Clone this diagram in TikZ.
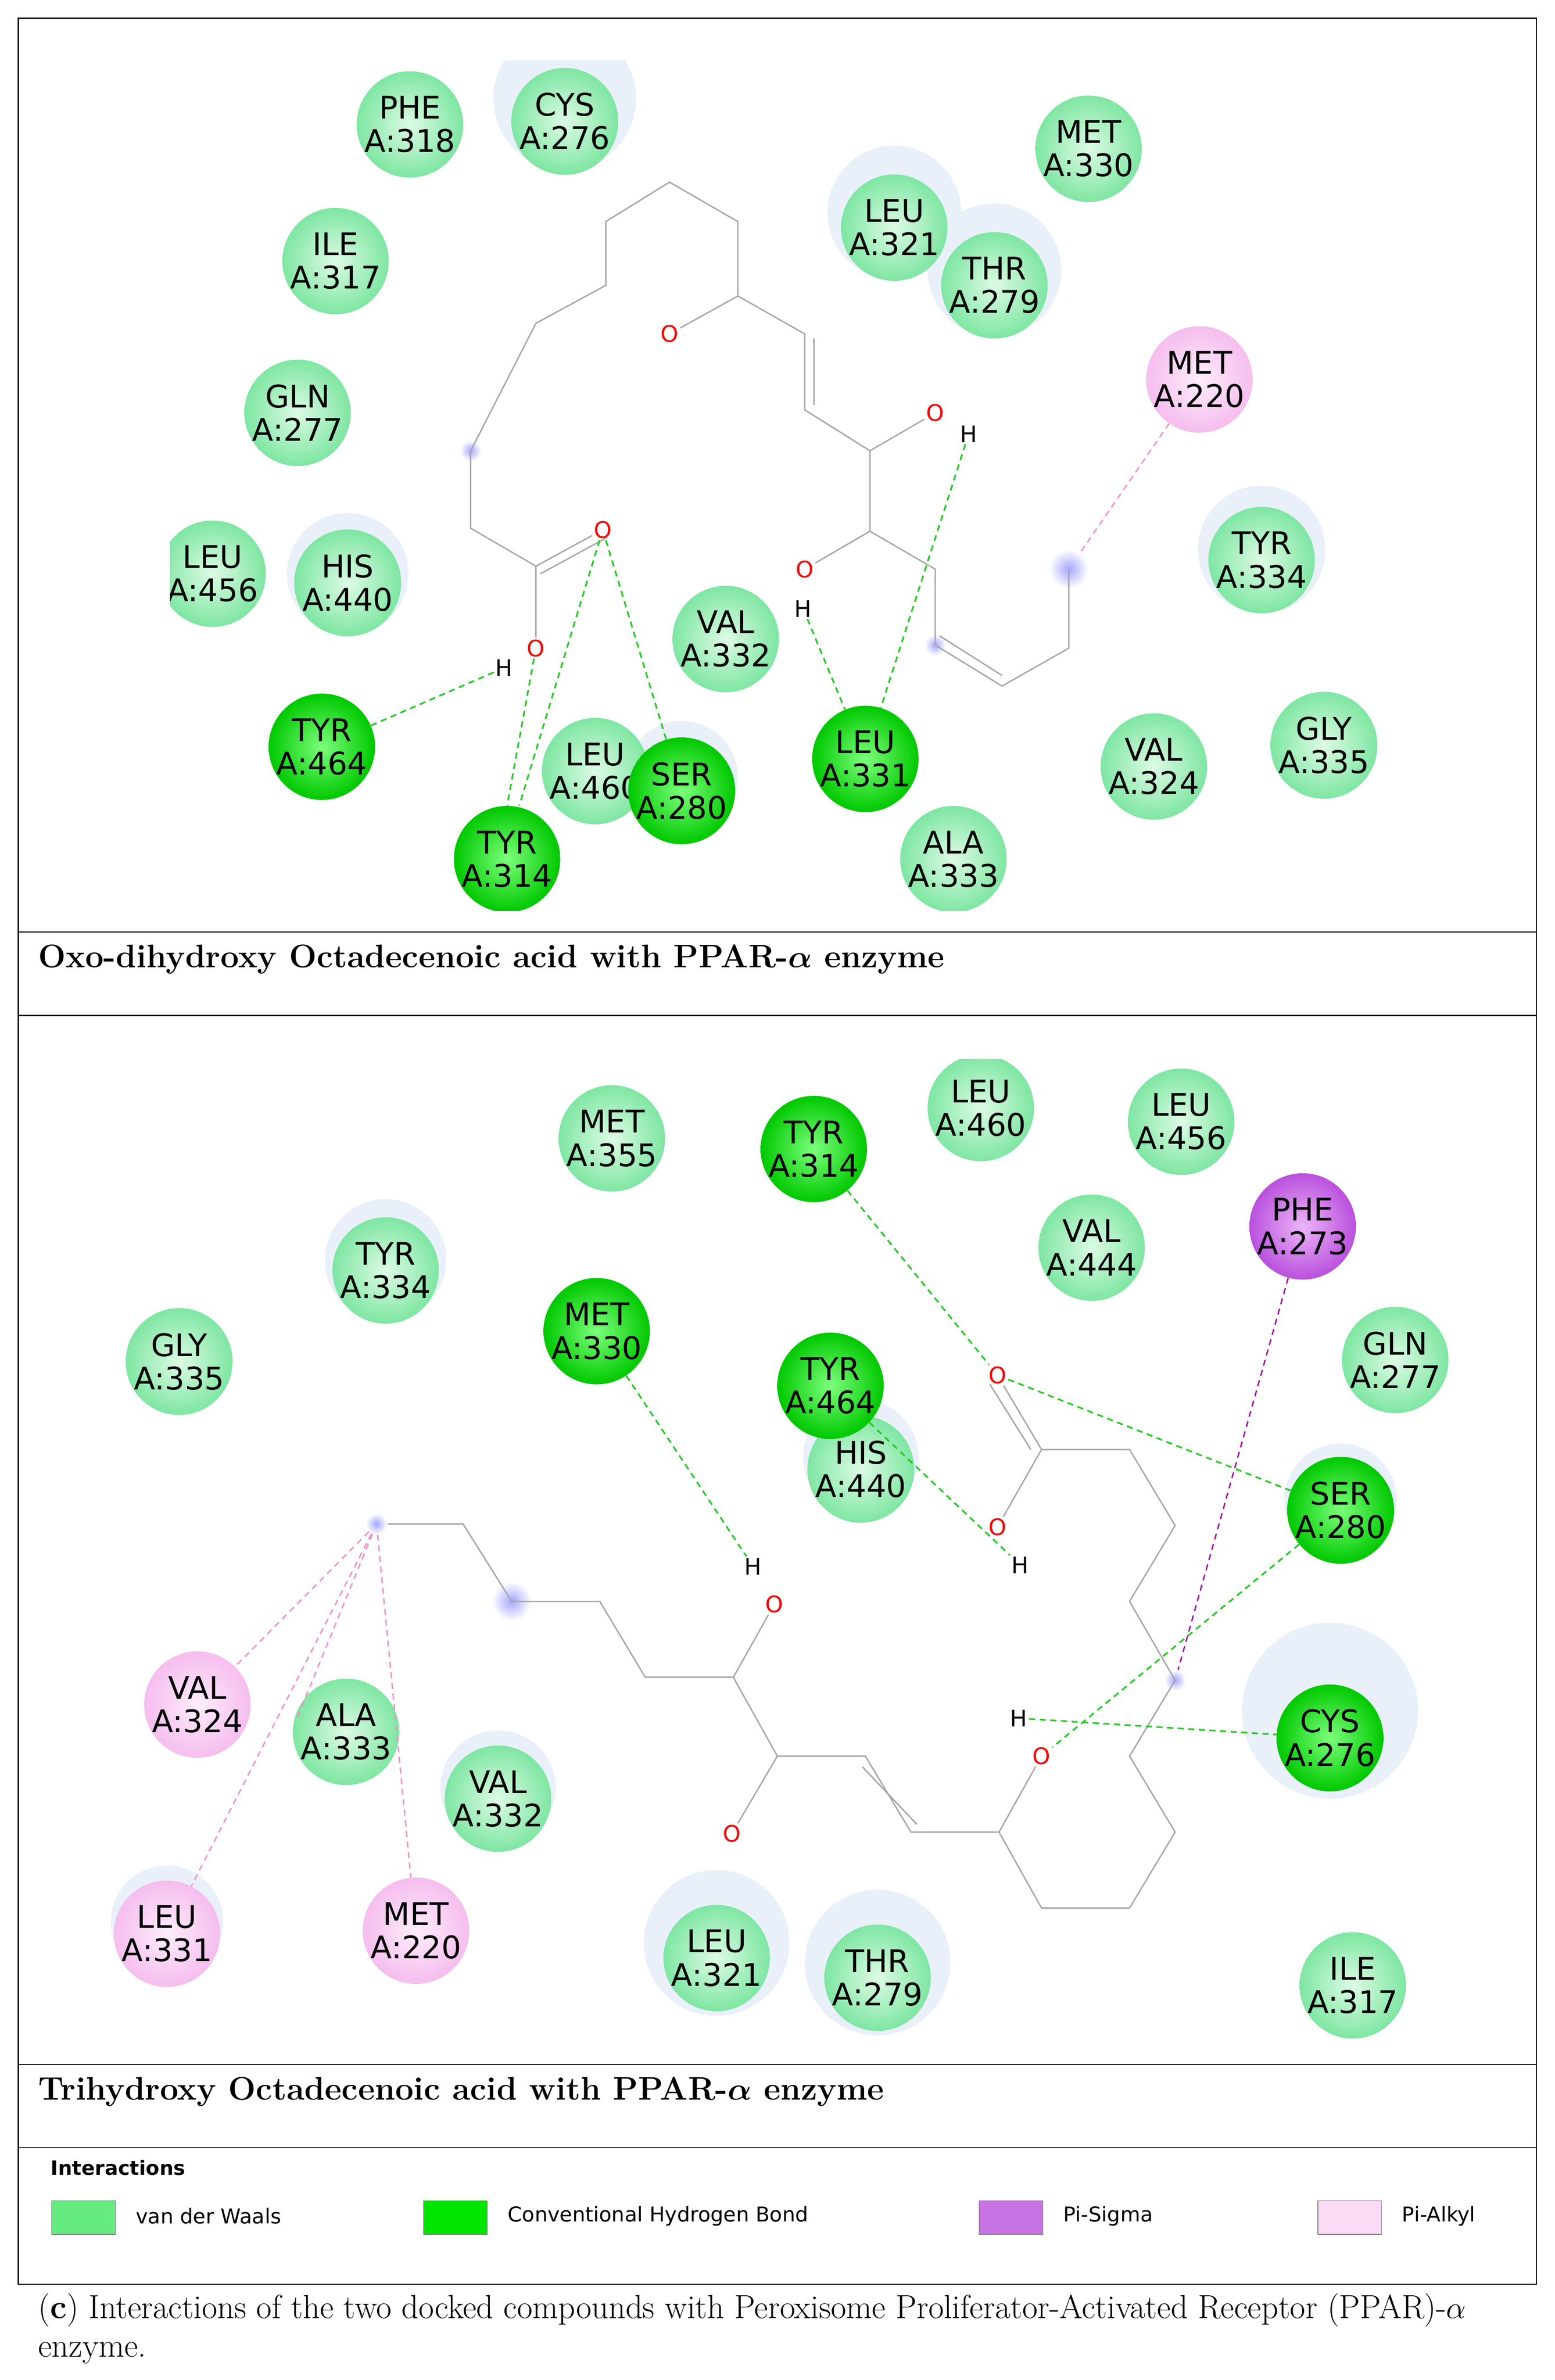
\documentclass[tikz,border=0pt]{standalone}
\usepackage{amsmath,amssymb}
\usepackage{bm}
\usepackage{fontspec}
\newfontfamily\dv{DejaVu Sans}
\usetikzlibrary{calc}
\definecolor{vdwA}{HTML}{DDFBE4}\definecolor{vdwB}{HTML}{7EE6A2}
\definecolor{hbA}{HTML}{7CFF7C}\definecolor{hbB}{HTML}{00C800}
\definecolor{paA}{HTML}{FFEDFB}\definecolor{paB}{HTML}{F5BDEE}
\definecolor{psA}{HTML}{EDB5F8}\definecolor{psB}{HTML}{B950DD}
\definecolor{halo}{HTML}{E9F0FA}\definecolor{hg}{HTML}{22CC22}
\tikzset{
 resbase/.style={circle,minimum size=66pt,inner sep=0pt,align=center,font=\dv\fontsize{20.5}{22}\selectfont,text=black},
 vdw/.style={resbase,inner color=vdwA,outer color=vdwB},
 hb/.style={resbase,inner color=hbA,outer color=hbB},
 pa/.style={resbase,inner color=paA,outer color=paB},
 ps/.style={resbase,inner color=psA,outer color=psB},
 bond/.style={draw=black!35,line width=0.9pt},
 atomO/.style={text=red,font=\dv\fontsize{15}{15}\selectfont,inner sep=1pt,fill=white},
 atomH/.style={text=black,font=\dv\fontsize{15}{15}\selectfont,inner sep=1pt,fill=white},
 hbl/.style={draw=hg,dash pattern=on 4pt off 3pt,line width=1.1pt},
 pal/.style={draw=magenta!45,dash pattern=on 4pt off 3pt,line width=0.9pt},
 psl/.style={draw=violet!70!magenta,dash pattern=on 4pt off 3pt,line width=0.9pt},
 blob/.style={circle,minimum size=26pt,inner sep=0pt,inner color=blue!35,outer color=white},
 haloc/.style={circle,fill=halo,inner sep=0pt},
 frame/.style={draw=black,line width=0.8pt},
 leg/.style={anchor=west,font=\dv\fontsize{13.5}{15}\selectfont}
}
\newcommand\rr[5]{\node[#5] (#1) at (#2) {#3\\#4};}
\begin{document}
\begin{tikzpicture}[x=1pt,y=-1pt]
\useasboundingbox (0,0) rectangle (1024,1568);
\fill[white] (0,0) rectangle (1024,1568);
% ================= top panel
\begin{scope}
\clip (112,40) rectangle (1000,600);
\node[haloc,minimum size=94pt] (h1) at (372,65) {};
\node[haloc,minimum size=88pt] (h2) at (589,140) {};
\node[haloc,minimum size=88pt] (h3) at (655,178) {};
\node[haloc,minimum size=80pt] (h4) at (229,378) {};
\node[haloc,minimum size=84pt] (h5) at (831,362) {};
\node[haloc,minimum size=74pt] (h6) at (449,512) {};
\node[blob] (b1) at (704,375) {};
\node[blob,minimum size=14pt] (b2) at (310,297) {};
\node[blob,minimum size=14pt] (b3) at (616,425) {};
% molecule
\coordinate (m1) at (310,297);
\node[atomO] (o1) at (397,349) {O};
\node[atomO] (o2) at (353,427) {O};
\node[atomH] (h1a) at (332,440) {H};
\node[atomO] (o3) at (441,220) {O};
\node[atomO] (o4) at (616,272) {O};
\node[atomH] (h4a) at (638,286) {H};
\node[atomO] (o5) at (530,375) {O};
\node[atomH] (h5a) at (529,401) {H};
\draw[bond] (m1)--(353,213)--(399,188)--(399,146)--(441,120)--(486,146)--(486,195);
\draw[bond] (m1)--(310,348)--(353,373)--(o2);
\draw[bond] (353,373)--(o1); \draw[bond] ($(353,373)+(3,5)$)--($(o1)+(3,5)$);
\draw[bond] (486,195)--(o3);
\draw[bond] (486,195)--(530,220)--(530,270)--(573,297)--(o4);
\draw[bond] ($(530,220)+(6,3)$)--($(530,270)+(6,-3)$);
\draw[bond] (573,297)--(573,350)--(o5);
\draw[bond] (573,350)--(616,375)--(616,425)--(660,452)--(704,427)--(704,375);
\draw[bond] ($(616,425)+(3,-6)$)--($(660,452)+(0,-7)$);
\rr{t1}{270,82}{PHE}{A:318}{vdw}
\rr{t2}{372,80}{CYS}{A:276}{vdw}
\rr{t3}{717,98}{MET}{A:330}{vdw}
\rr{t4}{589,150}{LEU}{A:321}{vdw}
\rr{t5}{655,188}{THR}{A:279}{vdw}
\rr{t6}{221,172}{ILE}{A:317}{vdw}
\rr{t7}{196,272}{GLN}{A:277}{vdw}
\rr{t8}{790,250}{MET}{A:220}{pa}
\rr{t9}{140,378}{LEU}{A:456}{vdw}
\rr{t10}{229,384}{HIS}{A:440}{vdw}
\rr{t11}{831,369}{TYR}{A:334}{vdw}
\rr{t12}{478,421}{VAL}{A:332}{vdw}
\rr{t13}{212,492}{TYR}{A:464}{hb}
\rr{t14}{392,508}{LEU}{A:460}{vdw}
\rr{t15}{449,521}{SER}{A:280}{hb}
\rr{t16}{334,566}{TYR}{A:314}{hb}
\rr{t17}{570,500}{LEU}{A:331}{hb}
\rr{t18}{760,505}{VAL}{A:324}{vdw}
\rr{t19}{872,491}{GLY}{A:335}{vdw}
\rr{t20}{628,566}{ALA}{A:333}{vdw}
\draw[hbl] (h1a)--(t13);
\draw[hbl] (o2)--(t16.north);
\draw[hbl] (o1)--($(t16.north)+(8,0)$);
\draw[hbl] (o1)--(t15);
\draw[hbl] (h5a)--(t17);
\draw[hbl] (h4a)--($(t17.north)+(10,2)$);
\draw[pal] (t8)--(b1);
\end{scope}
% ================= bottom panel
\begin{scope}
\clip (20,698) rectangle (1000,1345);
\node[haloc,minimum size=80pt] (g1) at (254,830) {};
\node[haloc,minimum size=76pt] (g2) at (567,960) {};
\node[haloc,minimum size=76pt] (g3) at (328,1178) {};
\node[haloc,minimum size=116pt] (g4) at (876,1127) {};
\node[haloc,minimum size=96pt] (g5) at (472,1280) {};
\node[haloc,minimum size=96pt] (g6) at (578,1293) {};
\node[haloc,minimum size=74pt] (g7) at (883,988) {};
\node[haloc,minimum size=74pt] (g8) at (110,1266) {};
\node[blob,minimum size=14pt] (c1) at (248,1004) {};
\node[blob] (c2) at (337,1055) {};
\node[blob,minimum size=14pt] (c3) at (774,1107) {};
\node[atomO] (p1) at (510,1057) {O};
\node[atomH] (q1) at (496,1032) {H};
\node[atomO] (p2) at (482,1208) {O};
\node[atomO] (p3) at (686,1157) {O};
\node[atomH] (q3) at (671,1132) {H};
\node[atomO] (p4) at (657,906) {O};
\node[atomO] (p5) at (657,1006) {O};
\node[atomH] (q5) at (672,1031) {H};
\draw[bond] (c1)--(305,1004)--(337,1055)--(395,1055)--(425,1105)--(483,1105)--(p1);
\draw[bond] (483,1105)--(512,1157)--(p2);
\draw[bond] (512,1157)--(570,1157)--(600,1207)--(658,1207)--(p3);
\draw[bond] ($(570,1157)+(-2,7)$)--($(600,1207)+(4,-5)$);
\draw[bond] (658,1207)--(686,1257)--(744,1257)--(774,1207)--(744,1157)--(774,1107)--(744,1055)--(774,1005)--(744,955)--(686,955)--(p4);
\draw[bond] (686,955)--(p5);
\draw[bond] ($(686,955)+(-7,0)$)--($(p4)+(-5,6)$);
\rr{s1}{403,750}{MET}{A:355}{vdw}
\rr{s3}{646,730}{LEU}{A:460}{vdw}
\rr{s4}{778,739}{LEU}{A:456}{vdw}
\rr{s5}{254,837}{TYR}{A:334}{vdw}
\rr{s6}{719,822}{VAL}{A:444}{vdw}
\rr{s7}{858,808}{PHE}{A:273}{ps}
\rr{s8}{393,877}{MET}{A:330}{hb}
\rr{s9}{118,897}{GLY}{A:335}{vdw}
\rr{s11}{567,968}{HIS}{A:440}{vdw}
\rr{s10}{547,913}{TYR}{A:464}{hb}
\rr{s2}{536,757}{TYR}{A:314}{hb}
\rr{s12}{919,896}{GLN}{A:277}{vdw}
\rr{s13}{883,995}{SER}{A:280}{hb}
\rr{s14}{130,1123}{VAL}{A:324}{pa}
\rr{s15}{228,1141}{ALA}{A:333}{vdw}
\rr{s16}{328,1185}{VAL}{A:332}{vdw}
\rr{s17}{876,1145}{CYS}{A:276}{hb}
\rr{s18}{110,1274}{LEU}{A:331}{pa}
\rr{s19}{274,1272}{MET}{A:220}{pa}
\rr{s20}{472,1290}{LEU}{A:321}{vdw}
\rr{s21}{578,1303}{THR}{A:279}{vdw}
\rr{s22}{891,1308}{ILE}{A:317}{vdw}
\draw[hbl] (s8)--(q1);
\draw[hbl] (s2)--(p4);
\draw[hbl] (p4)--(s13);
\draw[hbl] (s10)--(q5);
\draw[hbl] (s13)--(p3);
\draw[hbl] (q3)--(s17);
\draw[pal] (c1)--(s14);
\draw[pal] (c1)--(s18);
\draw[pal] (c1)--(s19);
\draw[pal] (c1)--($(s14.east)+(30,10)$);
\draw[psl] (s7)--(c3);
\end{scope}
% ================= frames and captions
\draw[frame] (12,12) rectangle (1012,1505);
\draw[frame] (12,614)--(1012,614);
\draw[frame] (12,669)--(1012,669);
\draw[frame] (12,1360)--(1012,1360);
\draw[frame] (12,1415)--(1012,1415);
\node[anchor=west,font=\bfseries\fontsize{21.5}{24}\selectfont,inner sep=0] (cap1) at (25,632) {Oxo-dihydroxy Octadecenoic acid with PPAR-$\bm{\alpha}$ enzyme};
\node[anchor=west,font=\bfseries\fontsize{21.5}{24}\selectfont,inner sep=0] (cap2) at (25,1378) {Trihydroxy Octadecenoic acid with PPAR-$\bm{\alpha}$ enzyme};
\node[anchor=west,font=\dv\bfseries\fontsize{13}{15}\selectfont] (li) at (30,1428) {Interactions};
\node[draw=black!50,fill=vdwB!80!green,minimum width=42pt,minimum height=22pt,inner sep=0] (k1) at (55,1461) {};
\node[leg] (l1) at (86,1460) {van der Waals};
\node[draw=black!50,fill=green!90!black,minimum width=42pt,minimum height=22pt,inner sep=0] (k2) at (300,1461) {};
\node[leg] (l2) at (331,1460) {Conventional Hydrogen Bond};
\node[draw=black!50,fill=psB!80!white,minimum width=42pt,minimum height=22pt,inner sep=0] (k3) at (666,1461) {};
\node[leg] (l3) at (697,1460) {Pi-Sigma};
\node[draw=black!50,fill=paA!60!paB,minimum width=42pt,minimum height=22pt,inner sep=0] (k4) at (889,1461) {};
\node[leg] (l4) at (920,1460) {Pi-Alkyl};
\begin{scope}
\clip (0,1500) rectangle (1024,1568);
\node[anchor=west,font=\fontsize{22}{24}\selectfont,inner sep=0] (cap3) at (25,1522) {(\textbf{c}) Interactions of the two docked compounds with Peroxisome Proliferator-Activated Receptor (PPAR)-$\alpha$};
\end{scope}
\node[anchor=west,font=\fontsize{22}{24}\selectfont,inner sep=0] (cap4) at (25,1550) {enzyme.};
\end{tikzpicture}
\end{document}
